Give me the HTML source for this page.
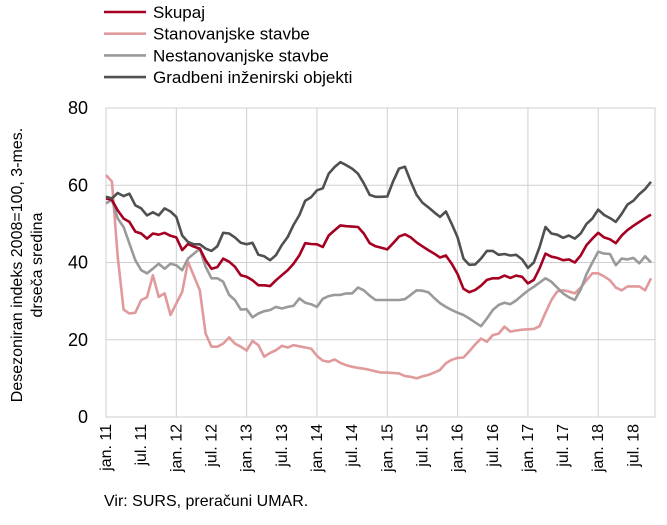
<!DOCTYPE html>
<html><head><meta charset="utf-8"><style>
body{margin:0;background:#fff;font-family:"Liberation Sans","DejaVu Sans",sans-serif;}
svg text{font-family:"Liberation Sans","DejaVu Sans",sans-serif;fill:#000;}
</style></head><body>
<svg id="chart" width="667" height="520" xmlns="http://www.w3.org/2000/svg">
<g id="legend"></g>
<g id="grid"></g>
<g id="series"></g>
<g id="axes"></g>
<text transform="translate(22,265) rotate(-90)" text-anchor="middle" font-size="16">Desezoniran indeks 2008=100, 3-mes.</text>
<text transform="translate(42,265) rotate(-90)" text-anchor="middle" font-size="16">drseča sredina</text>
<text x="104" y="506" font-size="16">Vir: SURS, preračuni UMAR.</text>
</svg>
<script>
const seriesNames=["Skupaj","Stanovanjske stavbe","Nestanovanjske stavbe","Gradbeni inženirski objekti"];
const skupaj=[56.6,56.2,53.5,51.4,50.5,48,47.5,46.2,47.5,47.2,47.7,46.9,46.5,43.2,44.8,44.1,43.6,40.6,38.4,38.8,41,40.2,38.9,36.7,36.3,35.4,34.1,34.1,33.9,35.4,36.7,38,39.7,41.9,45,44.8,44.7,44,47,48.3,49.6,49.4,49.3,49.2,47.5,45,44.2,43.8,43.4,45,46.7,47.3,46.5,45.2,44.2,43.2,42.3,41.3,41.8,39.7,37,33.2,32.3,32.9,34,35.5,35.9,35.9,36.6,36,36.6,36.3,34.6,35.5,38.5,42.3,41.5,41.2,40.6,40.8,40,41.8,44.5,46.2,47.7,46.5,46,45,47,48.4,49.5,50.5,51.5,52.4];
const stanovanjske=[62.6,61,41.5,27.8,26.8,27,30.3,31,36.7,31.1,32,26.4,29.4,32.4,40.2,36.5,32.8,21.6,18.2,18.2,19,20.6,19,18.2,17.2,19.7,18.6,15.6,16.6,17.3,18.4,18,18.6,18.3,18,17.7,15.8,14.6,14.3,14.9,14,13.4,13,12.7,12.5,12.2,11.8,11.5,11.5,11.4,11.3,10.6,10.4,10,10.5,10.9,11.5,12.2,13.9,14.8,15.3,15.4,17,18.8,20.3,19.5,21.2,21.6,23.4,22.1,22.4,22.6,22.7,22.8,23.5,27,30.3,32.5,32.8,32.5,32,33.5,35.4,37.2,37.2,36.4,35.4,33.5,32.8,33.8,33.8,33.8,32.8,35.9];
const nestanovanjske=[55.3,56.2,51.4,49.2,44.9,40.6,38,37.2,38.4,39.7,38.4,39.7,39.3,38,41,42.3,43.6,38.9,35.9,35.9,35,31.6,30.3,27.8,27.9,25.8,26.8,27.4,27.7,28.5,28.1,28.5,28.8,30.7,29.6,29.2,28.5,30.6,31.3,31.6,31.6,32,32,33.5,32.8,31.4,30.3,30.3,30.3,30.3,30.3,30.5,31.6,32.8,32.7,32.3,30.8,29.5,28.5,27.7,27,26.4,25.5,24.5,23.5,25.5,27.7,29,29.6,29.2,30.2,31.5,32.7,33.7,34.8,35.9,35,33.5,32,31,30.3,33,37,40,42.8,42.3,42.2,39.3,41,40.8,41.2,39.8,41.6,40];
const gradbeni=[57,56.6,58,57.2,57.8,54.8,54,52.2,53,52.2,54,53.2,51.8,47,45.3,44.7,44.7,43.6,43,44.2,47.7,47.5,46.5,45.1,44.7,45.1,42,41.6,40.6,41.9,44.5,46.6,49.7,52.3,56,56.9,58.7,59.2,63,64.7,66,65.2,64.3,63,60.5,57.5,57,57,57.1,61,64.3,64.8,61,57.5,55.5,54.3,53,51.8,53.2,50,46.5,41,39.4,39.5,41,43,43,42,42.2,41.8,42,40.8,38.6,40,44,49.2,47.5,47.2,46.4,47,46.2,47.5,50,51.4,53.7,52.3,51.5,50.5,52.6,55,56,57.7,59,60.9];
const yTicks=[0,20,40,60,80];
const xTickLabels=["jan. 11","jul. 11","jan. 12","jul. 12","jan. 13","jul. 13","jan. 14","jul. 14","jan. 15","jul. 15","jan. 16","jul. 16","jan. 17","jul. 17","jan. 18","jul. 18"];

const NS="http://www.w3.org/2000/svg";
const L=106,R=655,T=108,B=417,PM=5.86;
const x=m=>L+m*PM;
const y=v=>B-(v/80)*(B-T);
function mk(tag,attrs,parent){const e=document.createElementNS(NS,tag);for(const k in attrs)e.setAttribute(k,attrs[k]);parent.appendChild(e);return e;}
const grid=document.getElementById('grid'),axes=document.getElementById('axes'),ser=document.getElementById('series'),leg=document.getElementById('legend');
yTicks.forEach(t=>{
  const g=mk('line',{x1:L,x2:R,y1:y(t),y2:y(t),stroke:'#cfcfcf','stroke-width':1},grid);
  
  
  const tx=mk('text',{x:L-18,y:y(t)+6,'text-anchor':'end','font-size':18},axes);
  tx.textContent=t;
  
  
});
xTickLabels.forEach((lab,i)=>{
  const m=i*6;
  if(i%2===0){
    const g=mk('line',{x1:x(m),x2:x(m),y1:T,y2:B,stroke:'#cfcfcf','stroke-width':1},grid);
    
    
  }
  const tx=mk('text',{transform:`translate(${x(m)+5},${B+7}) rotate(-90)`,'text-anchor':'end','font-size':16},axes);
  tx.textContent=lab;
  
  
});
const fr=mk('rect',{x:L,y:T,width:R-L,height:B-T,fill:'none',stroke:'#cfcfcf','stroke-width':1},grid);


const data=[skupaj,stanovanjske,nestanovanjske,gradbeni];
const colors=['#a50021','#e09a9c','#9a9a9a','#505050'];
const keys=['skupaj','stanovanjske','nestanovanjske','gradbeni'];
[1,2,0,3].forEach(i=>{
  const p=mk('polyline',{points:data[i].map((v,m)=>x(m).toFixed(1)+','+y(v).toFixed(1)).join(' '),fill:'none',stroke:colors[i],'stroke-width':2.6,'stroke-linejoin':'round'},ser);
  
  
});
seriesNames.forEach((n,i)=>{
  const ly=12+i*21.7;
  const ln=mk('line',{x1:104,x2:146,y1:ly,y2:ly,stroke:colors[i],'stroke-width':2.6},leg);
  
  
  const t=mk('text',{x:153,y:ly+6,'font-size':17},leg);
  t.textContent=n;
  
  
});
</script>
</body></html>
